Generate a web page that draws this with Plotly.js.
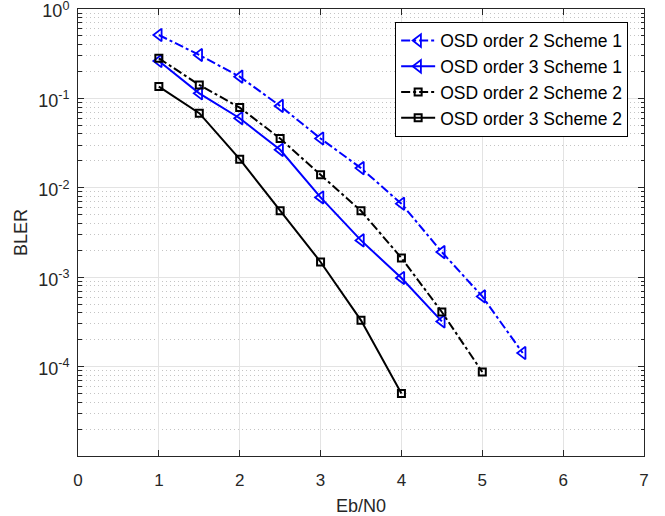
<!DOCTYPE html>
<html>
<head>
<meta charset="utf-8">
<script src="https://cdn.plot.ly/plotly-3.0.1.min.js"></script>
<style>html,body{margin:0;padding:0;background:#fff;}#chart{width:665px;height:516px;}</style>
</head>
<body>
<div id="chart"></div>
<script>
// Data
const ebn0_s1o2 = [1, 1.5, 2, 2.5, 3, 3.5, 4, 4.5, 5, 5.5];
const bler_s1o2 = [0.512, 0.306, 0.175, 0.0824, 0.0356, 0.0166, 0.00663, 0.00191, 0.00061, 0.000142];

const ebn0_s1o3 = [1, 1.5, 2, 2.5, 3, 3.5, 4, 4.5];
const bler_s1o3 = [0.262, 0.114, 0.060, 0.0266, 0.0078, 0.00258, 0.00098, 0.00032];

const ebn0_s2o2 = [1, 1.5, 2, 2.5, 3, 3.5, 4, 4.5, 5];
const bler_s2o2 = [0.281, 0.1415, 0.0789, 0.0356, 0.0140, 0.00553, 0.00164, 0.000408, 0.000087];

const ebn0_s2o3 = [1, 1.5, 2, 2.5, 3, 3.5, 4];
const bler_s2o3 = [0.1355, 0.0683, 0.0209, 0.00553, 0.00148, 0.000329, 0.0000499];

const seriesNames = ['OSD order 2 Scheme 1', 'OSD order 3 Scheme 1', 'OSD order 2 Scheme 2', 'OSD order 3 Scheme 2'];

const yTickVals = [1e-4, 1e-3, 1e-2, 1e-1, 1];
const yTickText = ['10<sup>-4</sup>', '10<sup>-3</sup>', '10<sup>-2</sup>', '10<sup>-1</sup>', '10<sup>0</sup>'];
const xTickVals = [0, 1, 2, 3, 4, 5, 6, 7];

const BLUE = 'rgb(0,0,255)';
const BLACK = 'rgb(0,0,0)';

const traces = [
  {x: ebn0_s1o2, y: bler_s1o2, name: seriesNames[0], mode: 'lines+markers',
   line: {color: BLUE, width: 2, dash: 'dashdot'},
   marker: {symbol: 'triangle-left-open', size: 11, color: BLUE, line: {width: 1.8, color: BLUE}}},
  {x: ebn0_s1o3, y: bler_s1o3, name: seriesNames[1], mode: 'lines+markers',
   line: {color: BLUE, width: 2},
   marker: {symbol: 'triangle-left-open', size: 11, color: BLUE, line: {width: 1.8, color: BLUE}}},
  {x: ebn0_s2o2, y: bler_s2o2, name: seriesNames[2], mode: 'lines+markers',
   line: {color: BLACK, width: 2, dash: 'dashdot'},
   marker: {symbol: 'square-open', size: 7, color: BLACK, line: {width: 2, color: BLACK}}},
  {x: ebn0_s2o3, y: bler_s2o3, name: seriesNames[3], mode: 'lines+markers',
   line: {color: BLACK, width: 2},
   marker: {symbol: 'square-open', size: 7, color: BLACK, line: {width: 2, color: BLACK}}}
];

const FONT = '"Liberation Sans", Arial, Helvetica, sans-serif';
const AXC = '#262626';

const layout = {
  width: 665, height: 516,
  margin: {l: 78, r: 21, t: 9, b: 60, pad: 0},
  paper_bgcolor: '#fff', plot_bgcolor: '#fff',
  font: {family: FONT, size: 17, color: AXC},
  showlegend: true,
  legend: {
    x: 0.972, y: 0.9716, xanchor: 'right', yanchor: 'top',
    bgcolor: '#fff', bordercolor: '#000', borderwidth: 1,
    font: {family: FONT, size: 17.5, color: '#000'},
    itemwidth: 34, tracegroupgap: 0
  },
  xaxis: {
    range: [0, 7], tickmode: 'array', tickvals: xTickVals,
    ticks: 'inside', ticklen: 6, tickwidth: 1, tickcolor: AXC,
    showline: true, linecolor: AXC, linewidth: 1, mirror: 'ticks',
    showgrid: true, gridcolor: '#e3e3e3', gridwidth: 1, zeroline: false,
    tickfont: {family: FONT, size: 17, color: AXC},
    ticklabelstandoff: 9,
    title: {text: 'Eb/N0', font: {family: FONT, size: 18, color: AXC}, standoff: 12}
  },
  yaxis: {
    type: 'log', range: [-5, 0], tickmode: 'array', tickvals: yTickVals, ticktext: yTickText,
    ticks: 'inside', ticklen: 6, tickwidth: 1, tickcolor: AXC,
    showline: true, linecolor: AXC, linewidth: 1, mirror: 'ticks',
    showgrid: true, gridcolor: '#e3e3e3', gridwidth: 1, zeroline: false,
    tickfont: {family: FONT, size: 18, color: AXC},
    ticklabeloverflow: 'allow', ticklabelstandoff: 4, ticklabelshift: 2,
    title: {text: 'BLER', font: {family: FONT, size: 18, color: AXC}, standoff: 5},
    minor: {dtick: 'D1', ticks: 'inside', ticklen: 3.5, tickcolor: AXC, tickwidth: 1,
            showgrid: true, gridcolor: '#c4c4c4', gridwidth: 1, griddash: '1px,3px'}
  }
};

Plotly.newPlot('chart', traces, layout, {displayModeBar: false, staticPlot: true});
</script>
</body>
</html>
